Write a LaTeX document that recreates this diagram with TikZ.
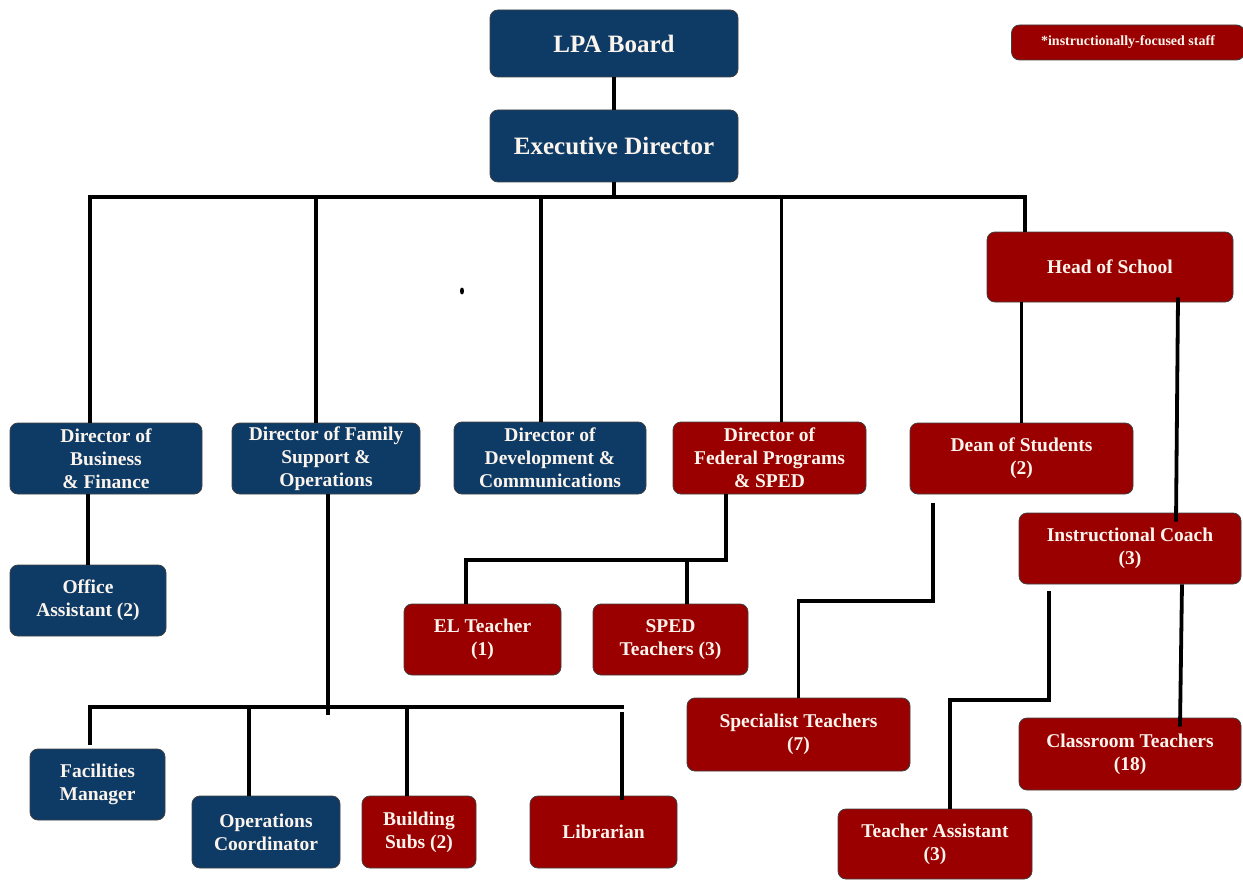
\documentclass[tikz,border=0pt]{standalone}
\usepackage{fontspec}
\setmainfont{Liberation Serif}
\definecolor{navy}{RGB}{14,58,102}
\definecolor{crimson}{RGB}{155,0,0}
\definecolor{cream}{RGB}{250,244,236}
\begin{document}
\begin{tikzpicture}[x=1pt,y=-1pt,
  box/.style={rounded corners=8pt, draw=black!75, line width=0.8pt, text=cream, align=center,
    font=\bfseries\fontsize{19.5}{23}\selectfont, inner sep=0pt},
  nv/.style={box, fill=navy},
  rd/.style={box, fill=crimson},
  big/.style={font=\bfseries\fontsize{25}{28}\selectfont},
  conn/.style={line width=3.8pt, draw=black}]
\useasboundingbox (0,0) rectangle (1243,880);
% top
\node[nv, big, minimum width=248, minimum height=67] (lpa) at (614,43.5) {LPA Board};
\node[nv, big, minimum width=248, minimum height=72] (exec) at (614,146) {Executive Director};
\node[rd, font=\bfseries\fontsize{14}{16}\selectfont, minimum width=233, minimum height=35] (legend) at (1128,42.5) {*instructionally-focused staff};
% level 2
\node[nv, minimum width=192, minimum height=71] (biz) at (106,458.5) {Director of\\Business\\\& Finance};
\node[nv, minimum width=188, minimum height=71] (fam) at (326,458.5) {Director of Family\\Support \&\\Operations};
\node[nv, minimum width=192, minimum height=72] (dev) at (550,458) {Director of\\Development \&\\Communications};
\node[rd, minimum width=193, minimum height=72] (fed) at (769.5,458) {Director of\\Federal Programs\\\& SPED};
\node[rd, minimum width=246, minimum height=70] (head) at (1110,267) {Head of School};
\node[rd, minimum width=223, minimum height=71] (dean) at (1021.5,458.5) {Dean of Students\\(2)};
\node[rd, minimum width=222, minimum height=71] (coach) at (1130,548.5) {Instructional Coach\\(3)};
% level 3
\node[nv, minimum width=156, minimum height=71] (office) at (88,600.5) {Office\\Assistant (2)};
\node[rd, minimum width=157, minimum height=71] (el) at (482.5,639.5) {EL Teacher\\(1)};
\node[rd, minimum width=155, minimum height=71] (sped) at (670.5,639.5) {SPED\\Teachers (3)};
\node[rd, minimum width=223, minimum height=73] (spec) at (798.5,734.5) {Specialist Teachers\\(7)};
\node[rd, minimum width=222, minimum height=72] (cls) at (1130,754) {Classroom Teachers\\(18)};
\node[rd, minimum width=194, minimum height=70] (ta) at (935,844) {Teacher Assistant\\(3)};
% bottom row
\node[nv, minimum width=135, minimum height=71] (fac) at (97.5,784.5) {Facilities\\Manager};
\node[nv, minimum width=148, minimum height=72] (opco) at (266,832) {Operations\\Coordinator};
\node[rd, minimum width=114, minimum height=72] (subs) at (419,832) {Building\\Subs (2)};
\node[rd, minimum width=147, minimum height=72] (lib) at (603.5,832) {Librarian};
% junction coordinates
\coordinate (busL) at (88,197);
\coordinate (busR) at (1027,197);
\coordinate (bus2L) at (88,707);
\coordinate (bus2R) at (624,707);
\coordinate (famEnd) at (328,715);
\coordinate (bus3L) at (464,560);
\coordinate (bus3R) at (728,560);
\coordinate (dsj) at (933,601);
\coordinate (taj) at (1049,700);
% connectors
\draw[conn] (lpa) -- (exec);
\draw[conn] (exec.south) -- (exec.south |- busL);
\draw[conn] (busL) -- (busR);
\draw[conn] ([xshift=-16pt]biz.north |- busL) -- ([xshift=-16pt]biz.north);
\draw[conn] ([xshift=-10pt]fam.north |- busL) -- ([xshift=-10pt]fam.north);
\draw[conn] ([xshift=-9pt]dev.north |- busL) -- ([xshift=-9pt]dev.north);
\draw[conn] ([xshift=12pt]fed.north |- busL) -- ([xshift=12pt]fed.north);
\draw[conn] ([xshift=-85pt]head.north |- busL) -- ([xshift=-85pt]head.north);
% business
\draw[conn] ([xshift=-18pt]biz.south) -- (office.north);
% family support
\draw[conn] ([xshift=2pt]fam.south) -- (famEnd);
\draw[conn] (bus2L) -- (bus2R);
\draw[conn] ([xshift=-7.5pt]fac.north |- bus2L) -- ([xshift=-7.5pt,yshift=4pt]fac.north);
\draw[conn] ([xshift=-17pt]opco.north |- bus2L) -- ([xshift=-17pt]opco.north);
\draw[conn] ([xshift=-12pt]subs.north |- bus2L) -- ([xshift=-12pt]subs.north);
\draw[conn] ([xshift=18.5pt,yshift=-5pt]lib.north |- bus2L) -- ([xshift=18.5pt,yshift=-4pt]lib.north);
% federal
\draw[conn] ([xshift=-43.5pt]fed.south) -- ([xshift=-43.5pt]fed.south |- bus3L);
\draw[conn] (bus3L) -- (bus3R);
\draw[conn] ([xshift=-16.5pt]el.north |- bus3L) -- ([xshift=-16.5pt]el.north);
\draw[conn] ([xshift=16.5pt]sped.north |- bus3L) -- ([xshift=16.5pt]sped.north);
% head of school
\draw[conn] (dean.north |- head.south) -- (dean.north);
\draw[conn] ([xshift=68pt,yshift=5pt]head.south) -- ([xshift=46pt,yshift=-9pt]coach.north);
\draw[conn] ([xshift=-88.5pt,yshift=-9pt]dean.south) -- (dsj) -| (spec.north);
\draw[conn] ([xshift=52pt]coach.south) -- ([xshift=50pt,yshift=-9pt]cls.north);
\draw[conn] ([xshift=-81pt,yshift=-7pt]coach.south) -- (taj) -| ([xshift=15pt]ta.north);
% stray mark
\fill (462,291) ellipse (2 and 3.5);
\end{tikzpicture}
\end{document}
